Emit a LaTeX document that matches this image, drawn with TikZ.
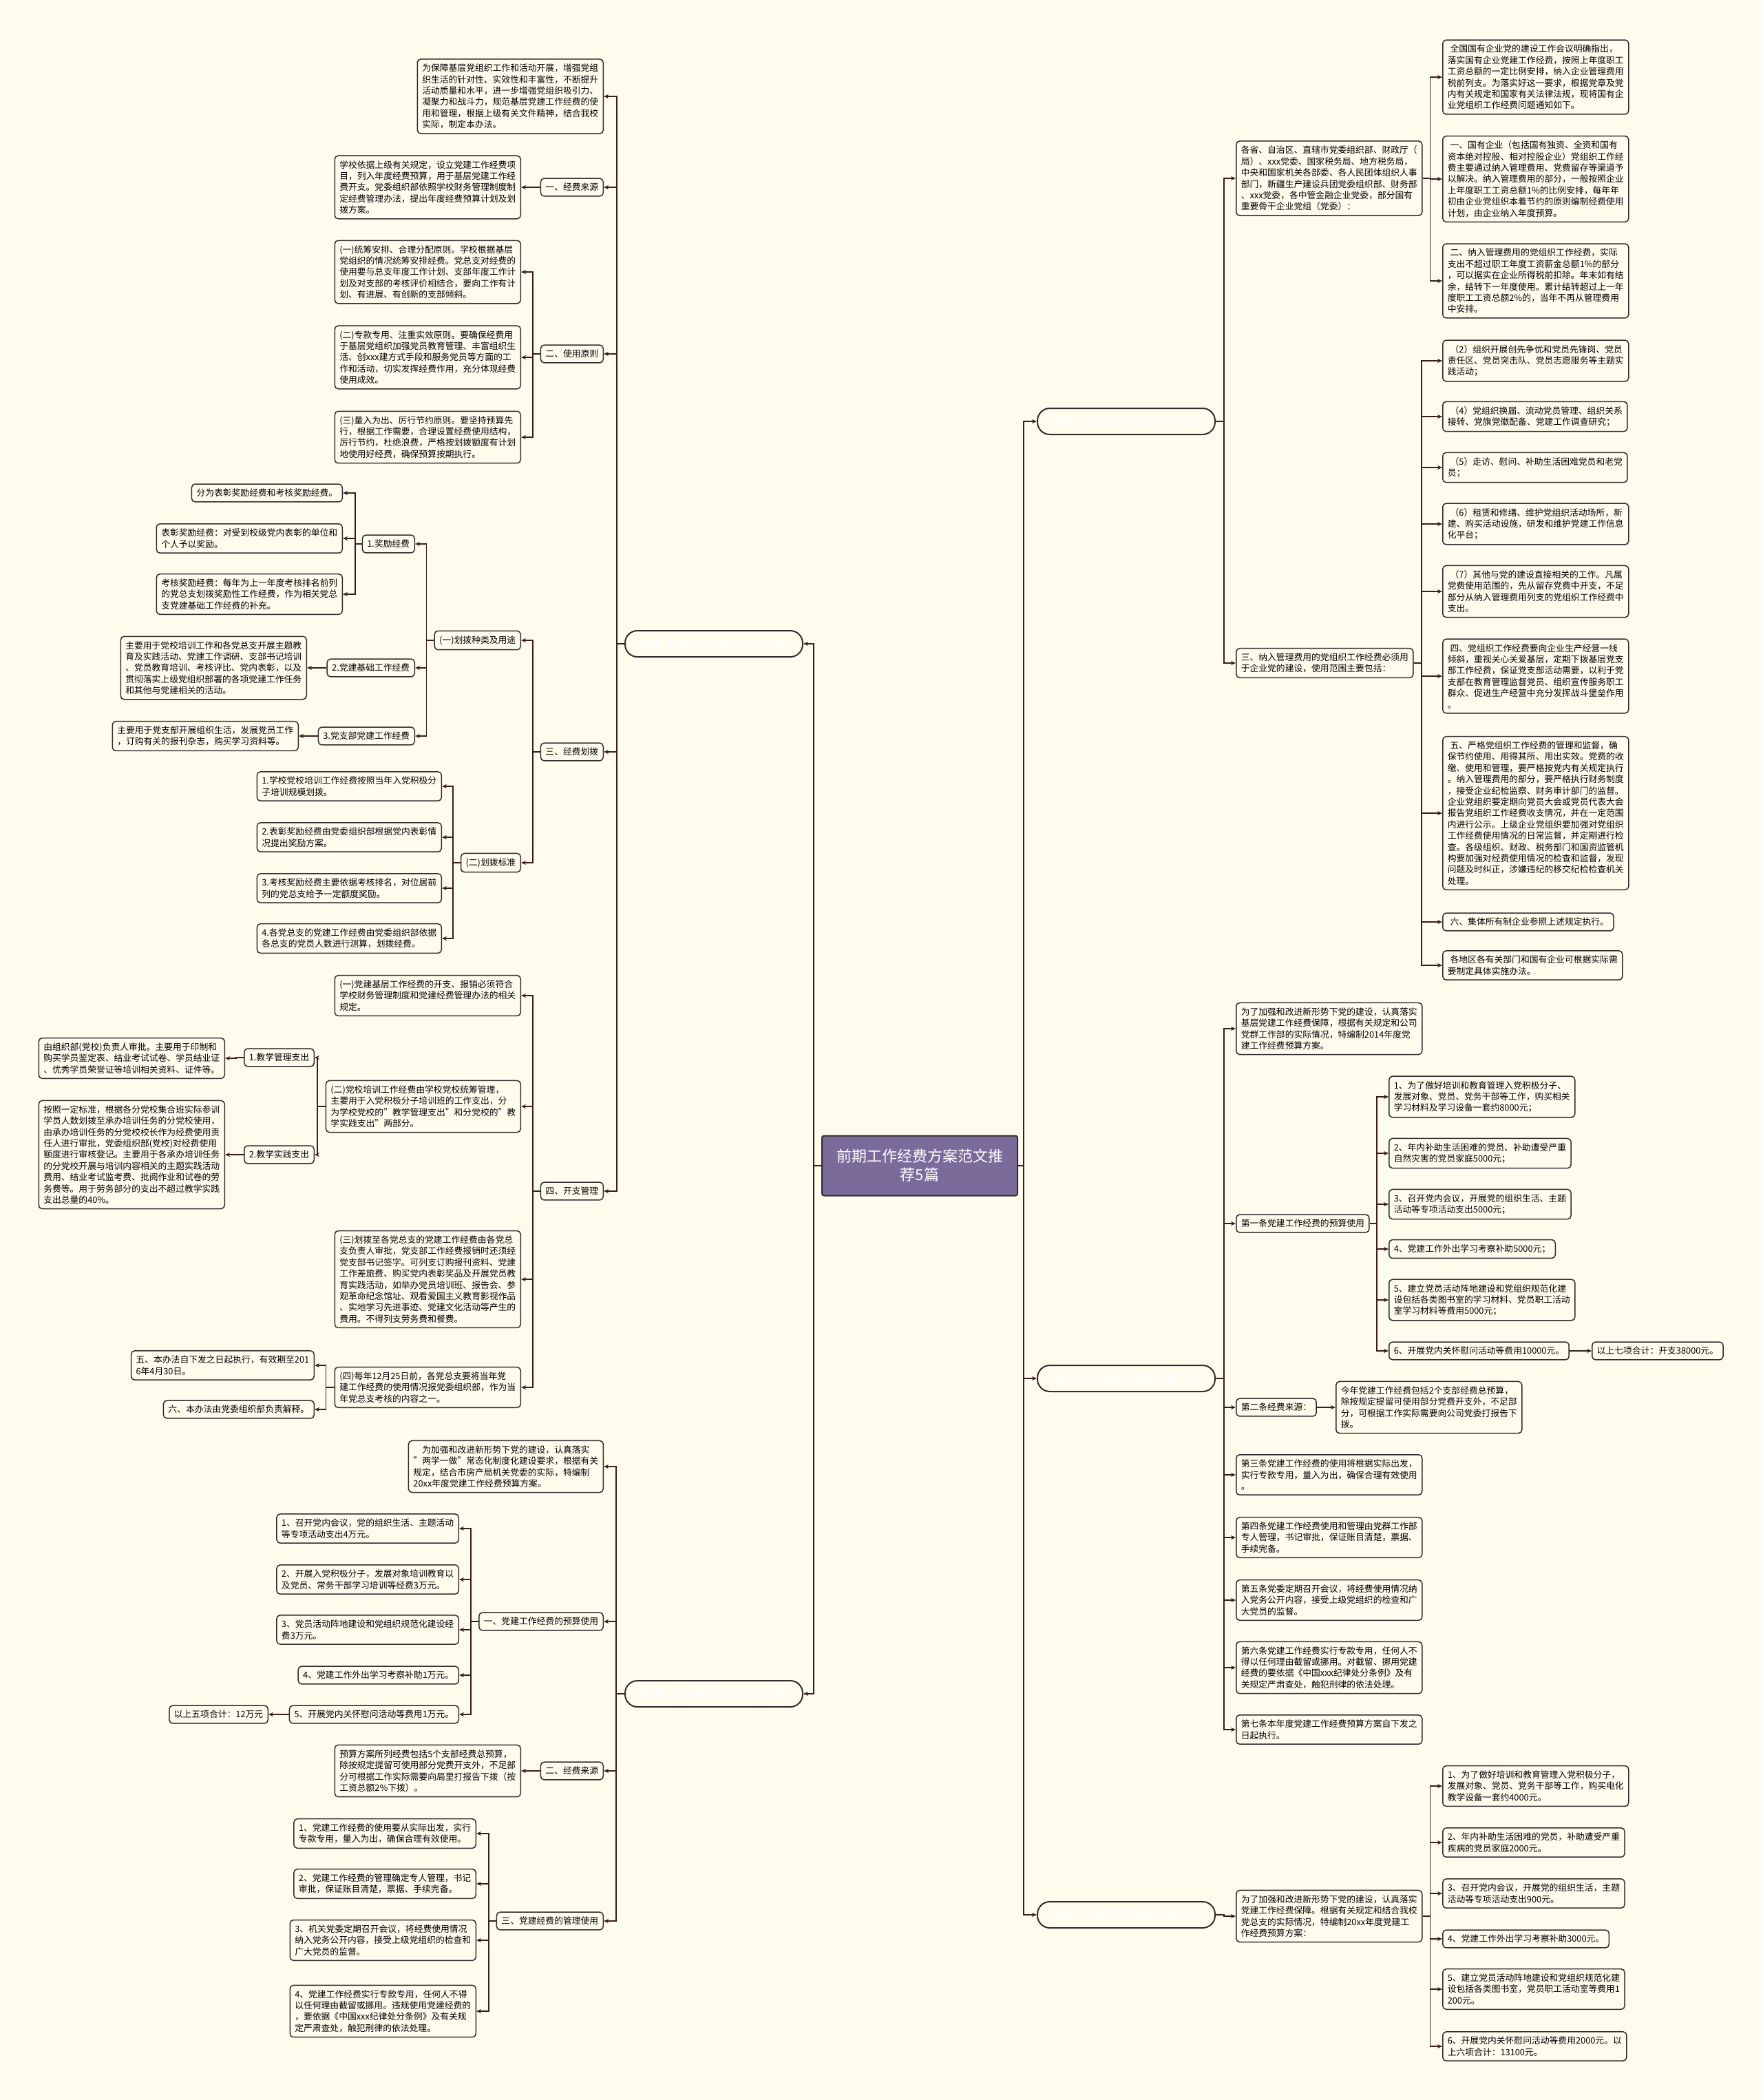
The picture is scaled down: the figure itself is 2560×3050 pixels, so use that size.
\documentclass[tikz,border=0pt]{standalone}
\usepackage{fontspec}
\setmainfont{Noto Sans CJK SC}
\usetikzlibrary{arrows.meta}
\definecolor{bg}{HTML}{FFFCEE}
\definecolor{linec}{HTML}{3A1C1C}
\definecolor{boxc}{HTML}{2E2E2E}
\definecolor{rootc}{HTML}{7A6B9B}

\begin{document}
\begin{tikzpicture}[x=1pt, y=-1pt,
    box/.style={rectangle, rounded corners=5pt, draw=boxc, line width=1.5pt, fill=bg, align=left, inner xsep=7pt, inner ysep=7pt, font=\fontsize{12.8}{16.4}\selectfont},
    lbox/.style={box, anchor=east},
    rbox/.style={box, anchor=west},
    topic/.style={rectangle, rounded corners=18pt, draw=boxc, line width=2pt, fill=bg, minimum width=258pt, minimum height=38pt, text=white, font=\fontsize{16}{20}\selectfont},
    rootbox/.style={rectangle, rounded corners=3pt, draw=boxc, line width=2pt, fill=rootc, minimum width=284pt, minimum height=87pt, text=white, align=center, font=\fontsize{22}{27}\selectfont},
    arrow/.style={draw=linec, line width=1.8pt, -{Stealth[length=7pt,width=6pt]}}
  ]
    \useasboundingbox (0,0) rectangle (2560,3050);
    \fill[bg] (0,0) rectangle (2560,3050);

    \node[rootbox] (root) at (1336,1693) {前期工作经费方案范文推\\荐5篇};
    \node[topic, anchor=west] (p1) at (1506,612) {前期工作经费方案范文 第一篇};
    \node[topic, anchor=east] (p2) at (1167,935) {前期工作经费方案范文 第二篇};
    \node[topic, anchor=west] (p3) at (1506,2002) {前期工作经费方案范文 第三篇};
    \node[topic, anchor=east] (p4) at (1167,2460) {前期工作经费方案范文 第四篇};
    \node[topic, anchor=west] (p5) at (1506,2781) {前期工作经费方案范文 第五篇};
    \foreach \p in {p2,p4} \draw[arrow] (root.west) -- ++(-11,0) |- (\p.east);
    \foreach \p in {p1,p3,p5} \draw[arrow] (root.east) -- ++(8,0) |- (\p.west);

    % 第二篇
    \node[lbox] (b2i) at (877,140) {为保障基层党组织工作和活动开展，增强党组\\织生活的针对性、实效性和丰富性，不断提升\\活动质量和水平，进一步增强党组织吸引力、\\凝聚力和战斗力，规范基层党建工作经费的使\\用和管理，根据上级有关文件精神，结合我校\\实际，制定本办法。};
    \node[lbox] (b2s) at (877,272) {一、经费来源};
    \node[lbox] (b2s1) at (757,272) {学校依据上级有关规定，设立党建工作经费项\\目，列入年度经费预算，用于基层党建工作经\\费开支。党委组织部依照学校财务管理制度制\\定经费管理办法，提出年度经费预算计划及划\\拨方案。};
    \node[lbox] (b2r) at (877,514) {二、使用原则};
    \node[lbox] (b2r1) at (757,395) {(一)统筹安排、合理分配原则。学校根据基层\\党组织的情况统筹安排经费。党总支对经费的\\使用要与总支年度工作计划、支部年度工作计\\划及对支部的考核评价相结合，要向工作有计\\划、有进展、有创新的支部倾斜。};
    \node[lbox] (b2r2) at (757,519) {(二)专款专用、注重实效原则。要确保经费用\\于基层党组织加强党员教育管理、丰富组织生\\活、创xxx建方式手段和服务党员等方面的工\\作和活动，切实发挥经费作用，充分体现经费\\使用成效。};
    \node[lbox] (b2r3) at (757,635) {(三)量入为出、厉行节约原则。要坚持预算先\\行，根据工作需要，合理设置经费使用结构，\\厉行节约，杜绝浪费，严格按划拨额度有计划\\地使用好经费，确保预算按期执行。};
    \node[lbox] (b2a) at (877,1092) {三、经费划拨};
    \node[lbox] (b2a1) at (757,930) {(一)划拨种类及用途};
    \node[lbox] (b2a11) at (603,790) {1.奖励经费};
    \node[lbox] (b2a111) at (498,716) {分为表彰奖励经费和考核奖励经费。};
    \node[lbox] (b2a112) at (498,782) {表彰奖励经费：对受到校级党内表彰的单位和\\个人予以奖励。};
    \node[lbox] (b2a113) at (498,863) {考核奖励经费：每年为上一年度考核排名前列\\的党总支划拨奖励性工作经费，作为相关党总\\支党建基础工作经费的补充。};
    \node[lbox] (b2a12) at (603,970) {2.党建基础工作经费};
    \node[lbox] (b2a121) at (446,970) {主要用于党校培训工作和各党总支开展主题教\\育及实践活动、党建工作调研、支部书记培训\\、党员教育培训、考核评比、党内表彰，以及\\贯彻落实上级党组织部署的各项党建工作任务\\和其他与党建相关的活动。};
    \node[lbox] (b2a13) at (603,1069) {3.党支部党建工作经费};
    \node[lbox] (b2a131) at (434,1069) {主要用于党支部开展组织生活，发展党员工作\\，订购有关的报刊杂志，购买学习资料等。};
    \node[lbox] (b2a2) at (757,1253) {(二)划拨标准};
    \node[lbox] (b2a21) at (642,1142) {1.学校党校培训工作经费按照当年入党积极分\\子培训规模划拨。};
    \node[lbox] (b2a22) at (642,1216) {2.表彰奖励经费由党委组织部根据党内表彰情\\况提出奖励方案。};
    \node[lbox] (b2a23) at (642,1290) {3.考核奖励经费主要依据考核排名，对位居前\\列的党总支给予一定额度奖励。};
    \node[lbox] (b2a24) at (642,1363) {4.各党总支的党建工作经费由党委组织部依据\\各总支的党员人数进行测算，划拨经费。};
    \node[lbox] (b2m) at (877,1730) {四、开支管理};
    \node[lbox] (b2m1) at (757,1446) {(一)党建基层工作经费的开支、报销必须符合\\学校财务管理制度和党建经费管理办法的相关\\规定。};
    \node[lbox] (b2m2) at (757,1607) {(二)党校培训工作经费由学校党校统筹管理，\\主要用于入党积极分子培训班的工作支出，分\\为学校党校的"教学管理支出"和分党校的"教\\学实践支出"两部分。};
    \node[lbox] (b2m21) at (457,1536) {1.教学管理支出};
    \node[lbox] (b2m211) at (327,1537) {由组织部(党校)负责人审批。主要用于印制和\\购买学员鉴定表、结业考试试卷、学员结业证\\、优秀学员荣誉证等培训相关资料、证件等。};
    \node[lbox] (b2m22) at (457,1677) {2.教学实践支出};
    \node[lbox] (b2m221) at (327,1677) {按照一定标准，根据各分党校集合班实际参训\\学员人数划拨至承办培训任务的分党校使用，\\由承办培训任务的分党校校长作为经费使用责\\任人进行审批，党委组织部(党校)对经费使用\\额度进行审核登记。主要用于各承办培训任务\\的分党校开展与培训内容相关的主题实践活动\\费用、结业考试监考费、批阅作业和试卷的劳\\务费等。用于劳务部分的支出不超过教学实践\\支出总量的40\%。};
    \node[lbox] (b2m3) at (757,1858) {(三)划拨至各党总支的党建工作经费由各党总\\支负责人审批，党支部工作经费报销时还须经\\党支部书记签字。可列支订购报刊资料、党建\\工作差旅费、购买党内表彰奖品及开展党员教\\育实践活动，如举办党员培训班、报告会、参\\观革命纪念馆址、观看爱国主义教育影视作品\\、实地学习先进事迹、党建文化活动等产生的\\费用。不得列支劳务费和餐费。};
    \node[lbox] (b2m4) at (757,2015) {(四)每年12月25日前，各党总支要将当年党\\建工作经费的使用情况报党委组织部，作为当\\年党总支考核的内容之一。};
    \node[lbox] (b2m41) at (457,1983) {五、本办法自下发之日起执行，有效期至201\\6年4月30日。};
    \node[lbox] (b2m42) at (457,2047) {六、本办法由党委组织部负责解释。};

    \foreach \c in {b2i,b2s,b2r,b2a,b2m} \draw[arrow] (p2.west) -- ++(-11,0) |- (\c.east);
    \draw[arrow] (b2s.west) -- ++(-11,0) |- (b2s1.east);
    \foreach \c in {b2r1,b2r2,b2r3} \draw[arrow] (b2r.west) -- ++(-11,0) |- (\c.east);
    \foreach \c in {b2a1,b2a2} \draw[arrow] (b2a.west) -- ++(-11,0) |- (\c.east);
    \foreach \c in {b2a11,b2a12,b2a13} \draw[arrow] (b2a1.west) -- ++(-11,0) |- (\c.east);
    \foreach \c in {b2a111,b2a112,b2a113} \draw[arrow] (b2a11.west) -- ++(-10,0) |- (\c.east);
    \draw[arrow] (b2a12.west) -- ++(-11,0) |- (b2a121.east);
    \draw[arrow] (b2a13.west) -- ++(-11,0) |- (b2a131.east);
    \foreach \c in {b2a21,b2a22,b2a23,b2a24} \draw[arrow] (b2a2.west) -- ++(-11,0) |- (\c.east);
    \foreach \c in {b2m1,b2m2,b2m3,b2m4} \draw[arrow] (b2m.west) -- ++(-11,0) |- (\c.east);
    \foreach \c in {b2m21,b2m22} \draw[arrow] (b2m2.west) -- ++(-12,0) |- (\c.east);
    \draw[arrow] (b2m21.west) -- ++(-11,0) |- (b2m211.east);
    \draw[arrow] (b2m22.west) -- ++(-11,0) |- (b2m221.east);
    \foreach \c in {b2m41,b2m42} \draw[arrow] (b2m4.west) -- ++(-12,0) |- (\c.east);

    % 第四篇
    \node[lbox] (b4i) at (877,2130) {\hspace*{1em}为加强和改进新形势下党的建设，认真落实\\"两学一做"常态化制度化建设要求，根据有关\\规定，结合市房产局机关党委的实际，特编制\\20xx年度党建工作经费预算方案。};
    \node[lbox] (b4u) at (877,2355) {一、党建工作经费的预算使用};
    \node[lbox] (b4u1) at (667,2220) {1、召开党内会议，党的组织生活、主题活动\\等专项活动支出4万元。};
    \node[lbox] (b4u2) at (667,2294) {2、开展入党积极分子，发展对象培训教育以\\及党员、常务干部学习培训等经费3万元。};
    \node[lbox] (b4u3) at (667,2367) {3、党员活动阵地建设和党组织规范化建设经\\费3万元。};
    \node[lbox] (b4u4) at (667,2433) {4、党建工作外出学习考察补助1万元。};
    \node[lbox] (b4u5) at (667,2490) {5、开展党内关怀慰问活动等费用1万元。};
    \node[lbox] (b4u51) at (390,2490) {以上五项合计：12万元};
    \node[lbox] (b4s) at (877,2572) {二、经费来源};
    \node[lbox] (b4s1) at (757,2572) {预算方案所列经费包括5个支部经费总预算，\\除按规定提留可使用部分党费开支外，不足部\\分可根据工作实际需要向局里打报告下拨（按\\工资总额2\%下拨）。};
    \node[lbox] (b4m) at (877,2790) {三、党建经费的管理使用};
    \node[lbox] (b4m1) at (692,2663) {1、党建工作经费的使用要从实际出发，实行\\专款专用，量入为出，确保合理有效使用。};
    \node[lbox] (b4m2) at (692,2736) {2、党建工作经费的管理确定专人管理，书记\\审批，保证账目清楚，票据、手续完备。};
    \node[lbox] (b4m3) at (692,2818) {3、机关党委定期召开会议，将经费使用情况\\纳入党务公开内容，接受上级党组织的检查和\\广大党员的监督。};
    \node[lbox] (b4m4) at (692,2921) {4、党建工作经费实行专款专用，任何人不得\\以任何理由截留或挪用。违规使用党建经费的\\，要依据《中国xxx纪律处分条例》及有关规\\定严肃查处，触犯刑律的依法处理。};

    \foreach \c in {b4i,b4u,b4s,b4m} \draw[arrow] (p4.west) -- ++(-12,0) |- (\c.east);
    \foreach \c in {b4u1,b4u2,b4u3,b4u4,b4u5} \draw[arrow] (b4u.west) -- ++(-11,0) |- (\c.east);
    \draw[arrow] (b4u5.west) -- ++(-11,0) |- (b4u51.east);
    \draw[arrow] (b4s.west) -- ++(-11,0) |- (b4s1.east);
    \foreach \c in {b4m1,b4m2,b4m3,b4m4} \draw[arrow] (b4m.west) -- ++(-11,0) |- (\c.east);

    % 第一篇
    \node[rbox] (b1g) at (1795,259) {各省、自治区、直辖市党委组织部、财政厅（\\局）、xxx党委、国家税务局、地方税务局，\\中央和国家机关各部委、各人民团体组织人事\\部门，新疆生产建设兵团党委组织部、财务部\\、xxx党委，各中管金融企业党委，部分国有\\重要骨干企业党组（党委）：};
    \node[rbox] (b1g1) at (2095,112) {\hspace*{0.3em}全国国有企业党的建设工作会议明确指出，\\落实国有企业党建工作经费，按照上年度职工\\工资总额的一定比例安排，纳入企业管理费用\\税前列支。为落实好这一要求，根据党章及党\\内有关规定和国家有关法律法规，现将国有企\\业党组织工作经费问题通知如下。};
    \node[rbox] (b1g2) at (2095,260) {\hspace*{0.3em}一、国有企业（包括国有独资、全资和国有\\资本绝对控股、相对控股企业）党组织工作经\\费主要通过纳入管理费用、党费留存等渠道予\\以解决。纳入管理费用的部分，一般按照企业\\上年度职工工资总额1\%的比例安排，每年年\\初由企业党组织本着节约的原则编制经费使用\\计划，由企业纳入年度预算。};
    \node[rbox] (b1g3) at (2095,408) {\hspace*{0.3em}二、纳入管理费用的党组织工作经费，实际\\支出不超过职工年度工资薪金总额1\%的部分\\，可以据实在企业所得税前扣除。年末如有结\\余，结转下一年度使用。累计结转超过上一年\\度职工工资总额2\%的，当年不再从管理费用\\中安排。};
    \node[rbox] (b1u) at (1795,963) {三、纳入管理费用的党组织工作经费必须用\\于企业党的建设，使用范围主要包括：};
    \node[rbox] (b1u1) at (2095,524) {\hspace*{0.3em}（2）组织开展创先争优和党员先锋岗、党员\\责任区、党员突击队、党员志愿服务等主题实\\践活动；};
    \node[rbox] (b1u2) at (2095,605) {\hspace*{0.3em}（4）党组织换届、流动党员管理、组织关系\\接转、党旗党徽配备、党建工作调查研究；};
    \node[rbox] (b1u3) at (2095,679) {\hspace*{0.3em}（5）走访、慰问、补助生活困难党员和老党\\员；};
    \node[rbox] (b1u4) at (2095,761) {\hspace*{0.3em}（6）租赁和修缮、维护党组织活动场所，新\\建、购买活动设施，研发和维护党建工作信息\\化平台；};
    \node[rbox] (b1u5) at (2095,859) {\hspace*{0.3em}（7）其他与党的建设直接相关的工作。凡属\\党费使用范围的，先从留存党费中开支，不足\\部分从纳入管理费用列支的党组织工作经费中\\支出。};
    \node[rbox] (b1u6) at (2095,982) {\hspace*{0.3em}四、党组织工作经费要向企业生产经营一线\\倾斜，重视关心关爱基层，定期下拨基层党支\\部工作经费，保证党支部活动需要，以利于党\\支部在教育管理监督党员、组织宣传服务职工\\群众、促进生产经营中充分发挥战斗堡垒作用\\。};
    \node[rbox] (b1u7) at (2095,1181) {\hspace*{0.3em}五、严格党组织工作经费的管理和监督，确\\保节约使用、用得其所、用出实效。党费的收\\缴、使用和管理，要严格按党内有关规定执行\\。纳入管理费用的部分，要严格执行财务制度\\，接受企业纪检监察、财务审计部门的监督。\\企业党组织要定期向党员大会或党员代表大会\\报告党组织工作经费收支情况，并在一定范围\\内进行公示。上级企业党组织要加强对党组织\\工作经费使用情况的日常监督，并定期进行检\\查。各级组织、财政、税务部门和国资监管机\\构要加强对经费使用情况的检查和监督，发现\\问题及时纠正，涉嫌违纪的移交纪检检查机关\\处理。};
    \node[rbox] (b1u8) at (2095,1339) {\hspace*{0.3em}六、集体所有制企业参照上述规定执行。};
    \node[rbox] (b1u9) at (2095,1402) {\hspace*{0.3em}各地区各有关部门和国有企业可根据实际需\\要制定具体实施办法。};

    \foreach \c in {b1g,b1u} \draw[arrow] (p1.east) -- ++(12,0) |- (\c.west);
    \foreach \c in {b1g1,b1g2,b1g3} \draw[arrow] (b1g.east) -- ++(11,0) |- (\c.west);
    \foreach \c in {b1u1,b1u2,b1u3,b1u4,b1u5,b1u6,b1u7,b1u8,b1u9} \draw[arrow] (b1u.east) -- ++(11,0) |- (\c.west);

    % 第三篇
    \node[rbox] (b3i) at (1795,1494) {为了加强和改进新形势下党的建设，认真落实\\基层党建工作经费保障，根据有关规定和公司\\党群工作部的实际情况，特编制2014年度党\\建工作经费预算方案。};
    \node[rbox] (b3a) at (1795,1777) {第一条党建工作经费的预算使用};
    \node[rbox] (b3a1) at (2017,1593) {1、为了做好培训和教育管理入党积极分子、\\发展对象、党员、党务干部等工作，购买相关\\学习材料及学习设备一套约8000元；};
    \node[rbox] (b3a2) at (2017,1675) {2、年内补助生活困难的党员、补助遭受严重\\自然灾害的党员家庭5000元；};
    \node[rbox] (b3a3) at (2017,1749) {3、召开党内会议，开展党的组织生活、主题\\活动等专项活动支出5000元；};
    \node[rbox] (b3a4) at (2017,1814) {4、党建工作外出学习考察补助5000元；};
    \node[rbox] (b3a5) at (2017,1888) {5、建立党员活动阵地建设和党组织规范化建\\设包括各类图书室的学习材料、党员职工活动\\室学习材料等费用5000元；};
    \node[rbox] (b3a6) at (2017,1962) {6、开展党内关怀慰问活动等费用10000元。};
    \node[rbox] (b3a61) at (2312,1962) {以上七项合计：开支38000元。};
    \node[rbox] (b3b) at (1795,2044) {第二条经费来源：};
    \node[rbox] (b3b1) at (1940,2044) {今年党建工作经费包括2个支部经费总预算，\\除按规定提留可使用部分党费开支外，不足部\\分，可根据工作实际需要向公司党委打报告下\\拨。};
    \node[rbox] (b3c) at (1795,2142) {第三条党建工作经费的使用将根据实际出发，\\实行专款专用，量入为出，确保合理有效使用\\。};
    \node[rbox] (b3d) at (1795,2233) {第四条党建工作经费使用和管理由党群工作部\\专人管理，书记审批，保证账目清楚，票据、\\手续完备。};
    \node[rbox] (b3e) at (1795,2324) {第五条党委定期召开会议，将经费使用情况纳\\入党务公开内容，接受上级党组织的检查和广\\大党员的监督。};
    \node[rbox] (b3f) at (1795,2422) {第六条党建工作经费实行专款专用，任何人不\\得以任何理由截留或挪用。对截留、挪用党建\\经费的要依据《中国xxx纪律处分条例》及有\\关规定严肃查处，触犯刑律的依法处理。};
    \node[rbox] (b3g) at (1795,2512) {第七条本年度党建工作经费预算方案自下发之\\日起执行。};

    \foreach \c in {b3i,b3a,b3b,b3c,b3d,b3e,b3f,b3g} \draw[arrow] (p3.east) -- ++(12,0) |- (\c.west);
    \foreach \c in {b3a1,b3a2,b3a3,b3a4,b3a5,b3a6} \draw[arrow] (b3a.east) -- ++(10,0) |- (\c.west);
    \draw[arrow] (b3a6.east) -- ++(11,0) |- (b3a61.west);
    \draw[arrow] (b3b.east) -- ++(11,0) |- (b3b1.west);

    % 第五篇
    \node[rbox] (b5i) at (1795,2783) {为了加强和改进新形势下党的建设，认真落实\\党建工作经费保障。根据有关规定和结合我校\\党总支的实际情况，特编制20xx年度党建工\\作经费预算方案：};
    \node[rbox] (b5i1) at (2095,2594) {1、为了做好培训和教育管理入党积极分子，\\发展对象、党员、党务干部等工作，购买电化\\教学设备一套约4000元。};
    \node[rbox] (b5i2) at (2095,2676) {2、年内补助生活困难的党员，补助遭受严重\\疾病的党员家庭2000元。};
    \node[rbox] (b5i3) at (2095,2750) {3、召开党内会议，开展党的组织生活，主题\\活动等专项活动支出900元。};
    \node[rbox] (b5i4) at (2095,2816) {4、党建工作外出学习考察补助3000元。};
    \node[rbox] (b5i5) at (2095,2889) {5、建立党员活动阵地建设和党组织规范化建\\设包括各类图书室，党员职工活动室等费用1\\200元。};
    \node[rbox] (b5i6) at (2095,2972) {6、开展党内关怀慰问活动等费用2000元。以\\上六项合计：13100元。};

    \draw[arrow] (p5.east) -- ++(12,0) |- (b5i.west);
    \foreach \c in {b5i1,b5i2,b5i3,b5i4,b5i5,b5i6} \draw[arrow] (b5i.east) -- ++(11,0) |- (\c.west);
  \end{tikzpicture}
\end{document}
